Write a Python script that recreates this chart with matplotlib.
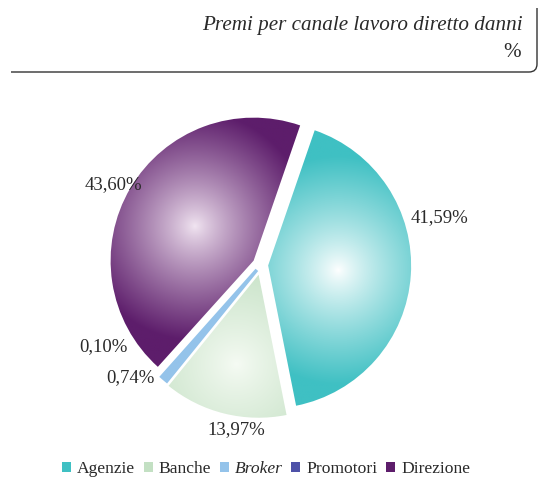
import numpy as np
import matplotlib.pyplot as plt
from matplotlib.patches import Patch
from matplotlib.path import Path
from matplotlib.patches import PathPatch
from matplotlib.colors import to_rgb

plt.rcParams['font.family'] = ['Liberation Serif', 'DejaVu Serif']

# dati
canali = ['Agenzie', 'Banche', 'Broker', 'Promotori', 'Direzione']
quote = [41.59, 13.97, 0.74, 0.10, 43.60]
etichette = ['41,59%', '13,97%', '0,74%', '0,10%', '43,60%']

colori = ['#3fc0c3', '#c3e0c3', '#94c3ea', '#4e52a8', '#5d1d6b']
chiari = ['#ffffff', '#f6fbf4', '#94c3ea', '#c8cbef', '#f2e6f2']
esplodi = [0.05, 0.07, 0.045, 0.045, 0.06]
# posizioni delle etichette (coordinate dati)
pos_etichette = [(1.25, 0.33), (-0.17, -1.15), (-0.91, -0.79), (-1.10, -0.57), (-1.03, 0.56)]

W, H = 544, 479
cx, cy, scala = 261, 265, 143
xlim = (-cx / scala, (W - cx) / scala)
ylim = (-(H - cy) / scala, cy / scala)

fig = plt.figure(figsize=(W / 100, H / 100), dpi=100)
ax = fig.add_axes([0, 0, 1, 1])

wedges, _ = ax.pie(quote, colors=colori, startangle=71, counterclock=False,
                   explode=esplodi, radius=1.0,
                   wedgeprops=dict(edgecolor='none', linewidth=0))

# sfumatura radiale per ogni spicchio
xs = np.linspace(*xlim, 600)
ys = np.linspace(*ylim, 520)
X, Y = np.meshgrid(xs, ys)
for w, c0, c1 in zip(wedges, chiari, colori):
    t1, t2 = np.radians(w.theta1), np.radians(w.theta2)
    a = (t2 - t1) / 2
    mid = (t1 + t2) / 2
    d = 2 / 3 * np.sin(a) / a if a > 0 else 0.6
    gx = w.center[0] + d * np.cos(mid)
    gy = w.center[1] + d * np.sin(mid)
    dist = np.hypot(X - gx, Y - gy)
    t = np.clip(dist / 0.8, 0, 1) ** 0.85
    a0, a1 = np.array(to_rgb(c0)), np.array(to_rgb(c1))
    img = a0[None, None, :] * (1 - t[..., None]) + a1[None, None, :] * t[..., None]
    im = ax.imshow(img, extent=(xs[0], xs[-1], ys[0], ys[-1]), origin='lower',
                   interpolation='bilinear', zorder=w.get_zorder() + 0.1)
    im.set_clip_path(w)
    w.set_facecolor('none')
    w.set_zorder(w.get_zorder() + 0.2)

# lo spicchio Broker è sottile: bordo nello stesso colore per renderlo visibile
wedges[2].set_edgecolor(colori[2])
wedges[2].set_linewidth(2.5)

for (x, y), s in zip(pos_etichette, etichette):
    ax.text(x, y, s, ha='center', va='center', fontsize=13.5, color='#2a2a2a')

ax.set_xlim(*xlim)
ax.set_ylim(*ylim)
ax.set_aspect('equal')
ax.axis('off')

# intestazione con cornice
ov = fig.add_axes([0, 0, 1, 1], facecolor='none')
ov.set_xlim(0, W)
ov.set_ylim(H, 0)
ov.axis('off')
verts = [(11, 72), (529, 72), (537, 72), (537, 64), (537, 8)]
codes = [Path.MOVETO, Path.LINETO, Path.CURVE3, Path.CURVE3, Path.LINETO]
ov.add_patch(PathPatch(Path(verts, codes), facecolor='none', edgecolor='#333333', lw=1.0))
ov.text(523, 30, 'Premi per canale lavoro diretto danni', ha='right', va='baseline',
        fontsize=15.2, style='italic', color='#2a2a2a')
ov.text(521, 57, '%', ha='right', va='baseline', fontsize=15.2, color='#2a2a2a')

handles = [Patch(facecolor=c, edgecolor='none') for c in colori]
leg = fig.legend(handles, canali, loc='center', bbox_to_anchor=(0.489, 1 - 469 / H),
                 ncol=5, frameon=False, fontsize=12.6, handlelength=0.5,
                 handleheight=0.5, handletextpad=0.35, columnspacing=0.5,
                 borderpad=0, borderaxespad=0)
for txt in leg.get_texts():
    txt.set_color('#2a2a2a')
    if txt.get_text() == 'Broker':
        txt.set_style('italic')

fig.savefig('out.png', dpi=100)
